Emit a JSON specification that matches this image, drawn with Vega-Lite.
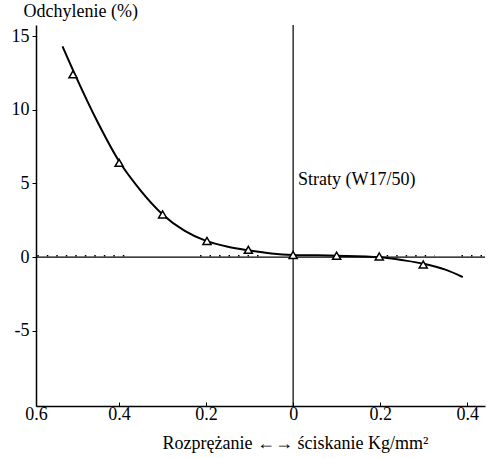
{
  "$schema": "https://vega.github.io/schema/vega-lite/v6.json",
  "autosize": {"type": "none"},
  "width": 449,
  "height": 381,
  "padding": {"left": 36, "top": 25, "right": 15, "bottom": 53},
  "background": "white",
  "config": {
    "view": {"stroke": null},
    "font": "Liberation Serif"
  },
  "datasets": {
    "curve": [
      {"x": -0.53, "y": 14.3},
      {"x": -0.5, "y": 12.3},
      {"x": -0.45, "y": 9.2},
      {"x": -0.4, "y": 6.5},
      {"x": -0.35, "y": 4.5},
      {"x": -0.3, "y": 2.9},
      {"x": -0.25, "y": 1.8},
      {"x": -0.2, "y": 1.1},
      {"x": -0.15, "y": 0.7},
      {"x": -0.1, "y": 0.45},
      {"x": -0.05, "y": 0.25},
      {"x": 0, "y": 0.15},
      {"x": 0.1, "y": 0.1},
      {"x": 0.2, "y": 0.0},
      {"x": 0.25, "y": -0.2},
      {"x": 0.3, "y": -0.45},
      {"x": 0.35, "y": -0.85},
      {"x": 0.39, "y": -1.35}
    ],
    "points": [
      {"x": -0.506, "y": 12.4},
      {"x": -0.4, "y": 6.4},
      {"x": -0.3, "y": 2.9},
      {"x": -0.198, "y": 1.1},
      {"x": -0.103, "y": 0.5},
      {"x": 0, "y": 0.15},
      {"x": 0.1, "y": 0.1},
      {"x": 0.198, "y": 0.05},
      {"x": 0.299, "y": -0.5}
    ],
    "dots": [
      {"x": -0.588, "x2": -0.375},
      {"x": -0.214, "x2": -0.075},
      {"x": 0.215, "x2": 0.325},
      {"x": 0.387, "x2": 0.438}
    ],
    "zero": [{"v": 0}],
    "label": [
      {"x": 0.011, "y": 5.2, "text": "Straty (W17/50)"}
    ]
  },
  "layer": [
    {
      "data": {"name": "dots"},
      "mark": {"type": "rule", "strokeDash": [1.5, 8], "strokeWidth": 1.5, "color": "black", "yOffset": -1.5},
      "encoding": {
        "x": {"field": "x", "type": "quantitative", "scale": {"domain": [-0.591, 0.441], "nice": false, "zero": false},
          "axis": {
            "title": "Rozprężanie ←→ ściskanie Kg/mm²",
            "values": [-0.591, -0.4, -0.2, 0, 0.2, 0.4],
            "labelExpr": "datum.value < -0.5 ? '0.6' : datum.value == 0 ? '0' : format(abs(datum.value), '.1f')",
            "grid": false,
            "labelFlush": false,
            "labelFont": "Liberation Serif",
            "labelFontSize": 18,
            "labelColor": "black",
            "titleFont": "Liberation Serif",
            "titleFontSize": 18,
            "titleFontWeight": "normal",
            "titleColor": "black",
            "domainColor": "black",
            "domainWidth": 1.5,
            "tickColor": "black",
            "tickSize": -4,
            "labelPadding": 3,
            "titleX": 259,
            "titleY": 46,
            "titleBaseline": "bottom",
            "titleAlign": "center"
          }},
        "x2": {"field": "x2"},
        "y": {"datum": 0, "type": "quantitative", "scale": {"domain": [-10.1, 15.75], "nice": false, "zero": false},
          "axis": {
            "title": "Odchylenie (%)",
            "values": [15, 10, 5, 0, -5],
            "labelExpr": "datum.value + ''",
            "grid": false,
            "labelFlush": false,
            "labelFont": "Liberation Serif",
            "labelFontSize": 18,
            "labelColor": "black",
            "titleFont": "Liberation Serif",
            "titleFontSize": 18,
            "titleFontWeight": "normal",
            "titleColor": "black",
            "domainColor": "black",
            "domainWidth": 1.5,
            "tickColor": "black",
            "tickSize": 4,
            "labelPadding": 3,
            "titleAngle": 0,
            "titleAlign": "left",
            "titleBaseline": "bottom",
            "titleX": -13,
            "titleY": -5
          }}
      }
    },
    {
      "data": {"name": "zero"},
      "mark": {"type": "rule", "color": "black", "strokeWidth": 1.2},
      "encoding": {"y": {"field": "v", "type": "quantitative"}}
    },
    {
      "data": {"name": "zero"},
      "mark": {"type": "rule", "color": "black", "strokeWidth": 1.2},
      "encoding": {"x": {"field": "v", "type": "quantitative"}}
    },
    {
      "data": {"name": "curve"},
      "mark": {"type": "line", "color": "black", "strokeWidth": 2, "interpolate": "monotone"},
      "encoding": {
        "x": {"field": "x", "type": "quantitative"},
        "y": {"field": "y", "type": "quantitative"}
      }
    },
    {
      "data": {"name": "points"},
      "mark": {"type": "point", "shape": "triangle-up", "size": 65, "filled": true, "fill": "white", "stroke": "black", "strokeWidth": 1.5, "opacity": 1},
      "encoding": {
        "x": {"field": "x", "type": "quantitative"},
        "y": {"field": "y", "type": "quantitative"}
      }
    },
    {
      "data": {"name": "label"},
      "mark": {"type": "text", "align": "left", "baseline": "middle", "fontSize": 18, "font": "Liberation Serif", "color": "black"},
      "encoding": {
        "x": {"field": "x", "type": "quantitative"},
        "y": {"field": "y", "type": "quantitative"},
        "text": {"field": "text"}
      }
    }
  ]
}
